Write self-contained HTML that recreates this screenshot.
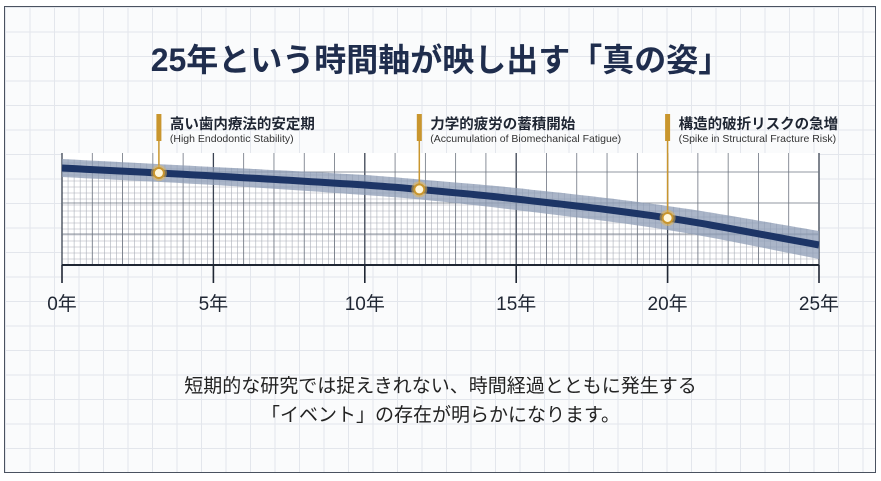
<!DOCTYPE html>
<html><head><meta charset="utf-8"><style>
html,body{margin:0;padding:0;background:#fff;}
body{width:881px;height:481px;overflow:hidden;position:relative;font-family:"Liberation Sans","Noto Sans CJK JP",sans-serif;}
#frame{position:absolute;left:4px;top:6px;width:872px;height:467px;border:1.5px solid #4a5260;box-sizing:border-box;
background-color:#fafbfc;
background-image:linear-gradient(#e3e6ec 1px,transparent 1px),linear-gradient(90deg,#e3e6ec 1px,transparent 1px);
background-size:24.5px 24.5px;background-position:0 0;}
.t{position:absolute;color:#1f2d4d;white-space:nowrap;}
</style></head><body>
<div id="frame"></div>
<div class="t" style="left:0;width:881px;text-align:center;top:35px;font-size:32px;font-weight:bold;">25年という時間軸が映し出す「真の姿」</div>
<svg id="chart" width="881" height="481" style="position:absolute;left:0;top:0"></svg>
<div class="t" style="left:0;width:881px;text-align:center;top:372px;font-size:19px;line-height:29px;color:#222;">短期的な研究では捉えきれない、時間経過とともに発生する<br>「イベント」の存在が明らかになります。</div>
<script>
const years=[0,5,10,12,15,20,25];
const values=[86.6,79.5,71.4,67,58.9,42,17.9];
const bandHalf=[9,9,10,10,11,12,14];
const tickYears=[0,5,10,15,20,25];
const tickLabels=["0年","5年","10年","15年","20年","25年"];
const eventYears=[3.2,11.8,20];
const eventTitles=["高い歯内療法的安定期","力学的疲労の蓄積開始","構造的破折リスクの急増"];
const eventSubs=["(High Endodontic Stability)","(Accumulation of Biomechanical Fatigue)","(Spike in Structural Fracture Risk)"];

const NS="http://www.w3.org/2000/svg";
const svg=document.getElementById('chart');
const X0=62,X1=819,Y0=265,Y1=153;
const xs=y=>X0+(X1-X0)*y/25;
const ys=v=>Y0-(Y0-Y1)*v/100;
function mk(t,a,p){const e=document.createElementNS(NS,t);for(const k in a)e.setAttribute(k,a[k]);(p||svg).appendChild(e);return e;}
// Catmull-Rom interpolation through data points
function interp(yr,arr){
 let i=0;while(i<years.length-2&&yr>years[i+1])i++;
 const x1=years[i],x2=years[i+1];
 const p0=arr[Math.max(i-1,0)],p1=arr[i],p2=arr[i+1],p3=arr[Math.min(i+2,arr.length-1)];
 const x0=years[Math.max(i-1,0)],x3=years[Math.min(i+2,years.length-1)];
 const h=x2-x1,f=(yr-x1)/h;
 const m1=(p2-p0)/(x2-x0||1)*h,m2=(p3-p1)/(x3-x1||1)*h;
 const f2=f*f,f3=f2*f;
 return (2*f3-3*f2+1)*p1+(f3-2*f2+f)*m1+(-2*f3+3*f2)*p2+(f3-f2)*m2;
}
function pathOf(pts){let d='M'+pts[0][0].toFixed(1)+','+pts[0][1].toFixed(1);for(let i=1;i<pts.length;i++)d+=' L'+pts[i][0].toFixed(1)+','+pts[i][1].toFixed(1);return d;}
const samp=[];for(let t=0;t<=25.001;t+=0.25)samp.push(t);
const mid=samp.map(t=>[xs(t),ys(interp(t,values))]);
const up=samp.map(t=>[xs(t),ys(interp(t,values))-interp(t,bandHalf)]);
const lo=samp.map(t=>[xs(t),ys(interp(t,values))+interp(t,bandHalf)]);

const bg=mk('rect',{x:X0,y:Y1,width:X1-X0,height:Y0-Y1,fill:'#ffffff'});


const defs=mk('defs',{});
const cp=mk('clipPath',{id:'under'},defs);
mk('path',{d:pathOf(up)+' L'+X1+','+Y0+' L'+X0+','+Y0+' Z'},cp);
const fg=mk('g',{'clip-path':'url(#under)'});


for(let t=0;t<=25.001;t+=0.2)mk('line',{x1:xs(t),x2:xs(t),y1:Y1,y2:Y0,stroke:'#a9aeb7','stroke-width':0.6},fg);
for(let y=Y0;y>=Y1;y-=6)mk('line',{x1:X0,x2:X1,y1:y,y2:y,stroke:'#a9aeb7','stroke-width':0.6},fg);
for(let t=0;t<=25;t++){const maj=t%5===0;const l=mk('line',{x1:xs(t),x2:xs(t),y1:Y1,y2:Y0,stroke:maj?'#3b4352':'#6d7480','stroke-width':maj?1.3:0.8});

}
for(const y of [172,203,234]){const l=mk('line',{x1:X0,x2:X1,y1:y,y2:y,stroke:'#6d7480','stroke-width':0.8});

}
const band=mk('path',{d:pathOf(up)+' '+pathOf(lo.slice().reverse()).replace('M','L')+' Z',fill:'#8e9cb5','fill-opacity':0.75});


const line=mk('path',{d:pathOf(mid),fill:'none',stroke:'#1d3566','stroke-width':7});


const ax=mk('line',{x1:X0,x2:X1,y1:Y0,y2:Y0,stroke:'#1f2633','stroke-width':2});


tickYears.forEach((t,i)=>{
 const tk=mk('line',{x1:xs(t),x2:xs(t),y1:Y0,y2:Y0+18,stroke:'#1f2633','stroke-width':1.6});
 
 
 const tx=mk('text',{x:xs(t),y:310,'text-anchor':'middle','font-size':19,fill:'#1f2633','font-family':'"Liberation Sans","Noto Sans CJK JP",sans-serif'});
 tx.textContent=tickLabels[i];
 
 
});
eventYears.forEach((t,i)=>{
 const x=xs(t),y=ys(interp(t,values));
 const g=mk('g',{});
 
 
 mk('line',{x1:x,x2:x,y1:140,y2:y,stroke:'#c9962e','stroke-width':1.5},g);
 mk('rect',{x:x-2.5,y:114,width:5,height:27,fill:'#c9962e'},g);
 mk('circle',{cx:x,cy:y,r:8,fill:'#e7b850','fill-opacity':0.5},g);
 mk('circle',{cx:x,cy:y,r:5,fill:'#fff7dc',stroke:'#c9962e','stroke-width':2},g);
 const a=mk('text',{x:x+11,y:129,'font-size':14.5,'font-weight':'bold',fill:'#1f2633','font-family':'"Liberation Sans","Noto Sans CJK JP",sans-serif'},g);
 a.textContent=eventTitles[i];
 const b=mk('text',{x:x+11,y:142,'font-size':10.5,fill:'#333','font-family':'"Liberation Sans","Noto Sans CJK JP",sans-serif'},g);
 b.textContent=eventSubs[i];
});
</script>
</body></html>
